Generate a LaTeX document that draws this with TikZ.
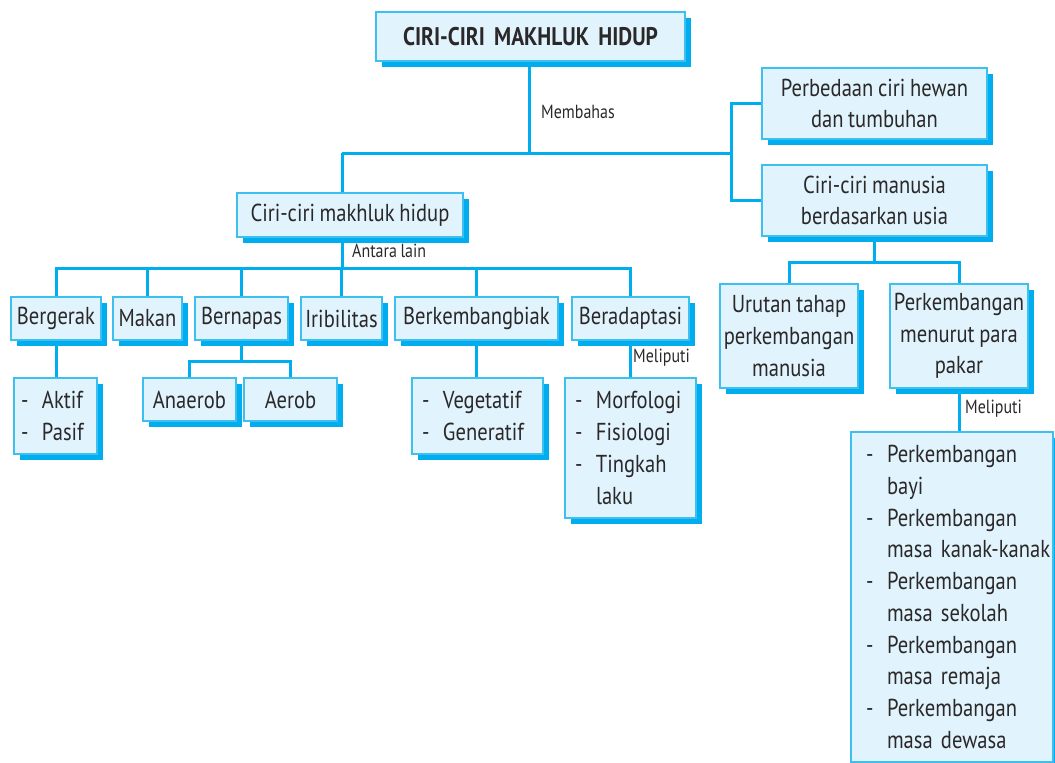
\documentclass[tikz,border=0pt]{standalone}
\usepackage{fontspec}
\setmainfont{PT Sans}[FakeStretch=0.84, WordSpace=0.85]
\usetikzlibrary{shadows}
\definecolor{boxfill}{HTML}{E1F3FC}
\definecolor{boxline}{HTML}{3DBFEF}
\definecolor{cyanline}{HTML}{00AEEF}
\definecolor{txt}{HTML}{2A2828}
\newcommand\mainsz{\fontsize{24.5}{31.7}\selectfont}
\newcommand\smallsz{\fontsize{19}{22}\selectfont}
\newcommand\itm{\makebox[21pt][l]{-}}
\newcommand\cnt{\hspace*{21pt}}
\newcommand\itmb{\hspace*{6pt}\makebox[21pt][l]{-}}
\newcommand\cntb{\hspace*{27pt}}
\begin{document}
\begin{tikzpicture}[x=1pt,y=-1pt,
  box/.style={draw=boxline, line width=1.2pt, fill=boxfill, text=txt, font=\mainsz,
    inner sep=0pt, align=center,
    drop shadow={shadow xshift=6pt, shadow yshift=-6pt, fill=cyanline, opacity=1}},
  listbox/.style={box, align=left, inner xsep=9pt},
  link/.style={draw=cyanline, line width=3pt},
  lbl/.style={text=txt, font=\smallsz, inner sep=0pt}]
\useasboundingbox (0,0) rectangle (1055,763);

% top
\node[box, minimum width=309, minimum height=49, font=\fontsize{25.5}{30}\selectfont\bfseries] (title) at (530.5,36.5) {CIRI-CIRI\ \ MAKHLUK\ \ HIDUP};
\node[box, minimum width=226, minimum height=44] (mkh) at (350,215) {Ciri-ciri makhluk hidup};
\node[box, minimum width=225, minimum height=71] (perb) at (874.5,103.5) {Perbedaan ciri hewan\\dan tumbuhan};
\node[box, minimum width=225, minimum height=71] (manu) at (874.5,200.5) {Ciri-ciri manusia\\berdasarkan usia};

% row
\node[box, minimum width=90, minimum height=43] (berg) at (56,318.5) {Bergerak};
\node[box, minimum width=69, minimum height=43] (makan) at (147.5,318.5) {Makan};
\node[box, minimum width=93, minimum height=43] (bern) at (241.5,318.5) {Bernapas};
\node[box, minimum width=81, minimum height=43] (irib) at (341.5,318.5) {Iribilitas};
\node[box, minimum width=163, minimum height=43] (berk) at (476.5,318.5) {Berkembangbiak};
\node[box, minimum width=117, minimum height=43] (bera) at (630.5,318.5) {Beradaptasi};

% sub boxes
\node[listbox, inner xsep=7pt, text width=69, minimum height=76] (gerak) at (55.5,416) {\itm Aktif\\\itm Pasif};
\node[box, minimum width=93, minimum height=43] (anaer) at (189.5,399.5) {Anaerob};
\node[box, minimum width=93, minimum height=43] (aerob) at (290.5,399.5) {Aerob};
\node[listbox, inner xsep=10pt, text width=111, minimum height=76] (biak) at (477.5,416) {\itm Vegetatif\\\itm Generatif};
\node[listbox, inner xsep=10pt, text width=111, minimum height=140] (adapt) at (630.5,448) {\itm Morfologi\\\itm Fisiologi\\\itm Tingkah\\\cnt laku};

% right
\node[box, minimum width=138, minimum height=104] (urut) at (789,336) {Urutan tahap\\perkembangan\\manusia};
\node[box, minimum width=138, minimum height=104] (pakar) at (959,336) {Perkembangan\\menurut para\\pakar};
\node[listbox, inner xsep=9pt, text width=184, minimum height=330] (ahli) at (952,597) {\itmb Perkembangan\\\cntb bayi\\\itmb Perkembangan\\\cntb\mbox{masa kanak-kanak}\\\itmb Perkembangan\\\cntb masa sekolah\\\itmb Perkembangan\\\cntb masa remaja\\\itmb Perkembangan\\\cntb masa dewasa};

% junctions
\coordinate (jt) at (529,153);
\coordinate (jl) at (342,153);
\coordinate (jr) at (731,153);
\coordinate (bus) at (342,268);
\coordinate (jb) at (241.5,361);
\coordinate (jm) at (874.5,262);

% connectors
\draw[link] (title.south -| jt) -- (jt);
\draw[link] (jl) -- (jr);
\draw[link] (jl) -- (jl |- mkh.north);
\draw[link] (perb.west) -| (jr) |- (manu.west);
\draw[link] (bus |- mkh.south) -- (bus);
\draw[link] (berg.north) |- (bus) -| (bera.north);
\draw[link] (makan.north) -- (makan.north |- bus);
\draw[link] (bern.north) -- (bern.north |- bus);
\draw[link] (irib.north) -- (irib.north |- bus);
\draw[link] (berk.north) -- (berk.north |- bus);
\draw[link] (berg.south) -- (berg.south |- gerak.north);
\draw[link] (bern.south) -- (jb);
\draw[link] (anaer.north) |- (jb) -| (aerob.north);
\draw[link] (berk.south) -- (berk.south |- biak.north);
\draw[link] (bera.south) -- (bera.south |- adapt.north);
\draw[link] (manu.south) -- (jm);
\draw[link] (urut.north) |- (jm) -| (pakar.north);
\draw[link] (pakar.south) -- (pakar.south |- ahli.north);

% labels
\node[lbl, anchor=west] (l1) at (541,112) {Membahas};
\node[lbl, anchor=west] (l2) at (352,251) {Antara\ lain};
\node[lbl, anchor=west] (l3) at (633,358) {Meliputi};
\node[lbl, anchor=west] (l4) at (965,409) {Meliputi};
\end{tikzpicture}
\end{document}
